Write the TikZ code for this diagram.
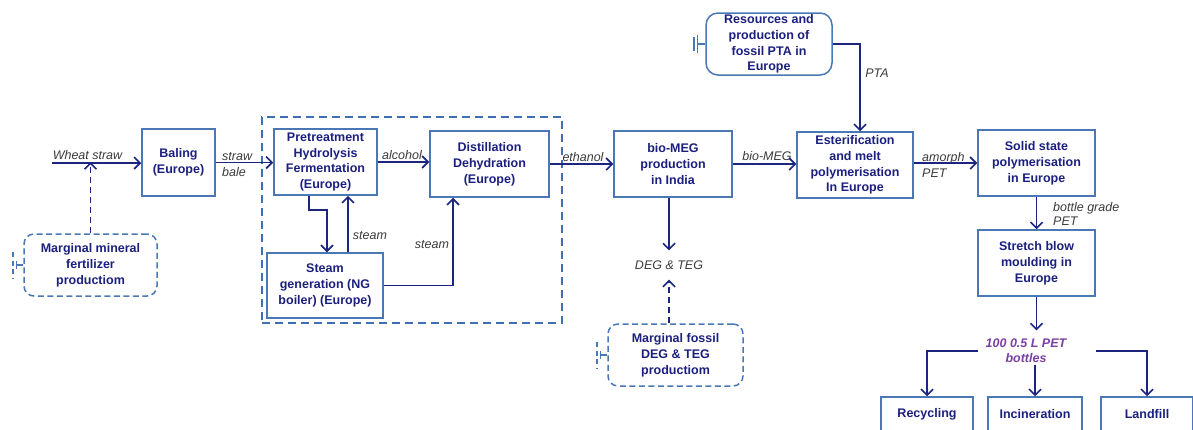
\documentclass[tikz,border=0pt]{standalone}
\usepackage{fontspec}
\setmainfont{Liberation Sans}
\usetikzlibrary{arrows.meta,calc}

\definecolor{boxblue}{HTML}{4A78B6}
\definecolor{frameblue}{HTML}{3F6FB3}
\definecolor{inknavy}{HTML}{1B1F7E}
\definecolor{arrownavy}{HTML}{1C2580}
\definecolor{labgray}{HTML}{3A3A3A}
\definecolor{bottlepurple}{HTML}{7A3FA3}

\tikzset{
  procbox/.style={draw=boxblue, line width=1.5pt, fill=white, align=center,
    inner sep=0pt, text=inknavy,
    font=\fontsize{12.5}{15.8}\selectfont\bfseries},
  margbox/.style={procbox, rounded corners=10pt,
    dash pattern=on 6pt off 3.5pt},
  resbox/.style={procbox, rounded corners=12pt},
  unitframe/.style={draw=frameblue, line width=2.2pt, dash pattern=on 8pt off 5pt,
    inner sep=0pt},
  flowlabel/.style={inner sep=0pt, text=labgray,
    font=\fontsize{12.5}{16}\selectfont\itshape},
  bottlelabel/.style={inner xsep=0pt, inner ysep=2pt, text=bottlepurple,
    align=center, font=\fontsize{12.5}{15}\selectfont\bfseries\itshape},
  flow/.style={draw=arrownavy, line width=1.6pt,
    -{Straight Barb[length=6pt,width=12pt,line width=1.6pt]}},
  dflow/.style={flow, dash pattern=on 6pt off 4pt},
  stub/.style={draw=boxblue, line width=1.5pt},
}

\begin{document}
\begin{tikzpicture}[x=1pt,y=-1pt]
\useasboundingbox (0,0) rectangle (1193,429);
\clip (0,0) rectangle (1193,429);

% ---- dashed frame around the ethanol plant
\node[unitframe, minimum width=300pt, minimum height=206pt] (plant) at (412,220) {};

% ---- process boxes
\node[procbox, minimum width=73pt,  minimum height=67pt] (baling) at (178.5,162.5) {Baling\\(Europe)};
\node[procbox, minimum width=103pt, minimum height=66pt] (pre)    at (325.5,162)   {Pretreatment\\Hydrolysis\\Fermentation\\(Europe)};
\node[procbox, minimum width=119pt, minimum height=66pt] (dist)   at (489.5,164)   {Distillation\\Dehydration\\(Europe)};
\node[procbox, minimum width=116pt, minimum height=65pt] (steam)  at (325,285.5)   {Steam\\generation (NG\\boiler) (Europe)};
\node[procbox, minimum width=118pt, minimum height=66pt] (biomeg) at (673,164)     {bio-MEG\\production\\in India};
\node[procbox, minimum width=116pt, minimum height=66pt] (ester)  at (855,165)     {Esterification\\and melt\\polymerisation\\In Europe};
\node[resbox,  minimum width=126pt, minimum height=62pt] (pta)    at (769,44)      {Resources and\\production of\\fossil PTA in\\Europe};
\node[procbox, minimum width=117pt, minimum height=66pt] (ssp)    at (1036.5,163)  {Solid state\\polymerisation\\in Europe};
\node[procbox, minimum width=117pt, minimum height=66pt] (sbm)    at (1036.5,263)  {Stretch blow\\moulding in\\Europe};
\node[procbox, minimum width=92pt,  minimum height=34pt] (rec)    at (927,414)     {Recycling};
\node[procbox, minimum width=94pt,  minimum height=34pt] (inc)    at (1035,414)    {Incineration};
\node[procbox, minimum width=92pt,  minimum height=34pt] (land)   at (1147,414)    {Landfill};

% ---- marginal supply boxes
\node[margbox, minimum width=133pt, minimum height=62pt] (margmin) at (90.5,265)  {Marginal mineral\\fertilizer\\productiom};
\node[margbox, minimum width=135pt, minimum height=62pt] (margfos) at (675.5,355) {Marginal fossil\\DEG \& TEG\\productiom};

% ---- system boundary stubs
\draw[stub] (pta.west) -- ++(-8,0) coordinate (ptastub);
\draw[stub] (ptastub) ++(0,-9) -- ++(0,18);
\draw[stub] (ptastub) ++(-3.5,-7) -- ++(0,14);

\draw[stub, dash pattern=on 6pt off 3.5pt] (margmin.west) -- ++(-7,0) coordinate (minstub);
\draw[stub] (minstub) ++(0,-4) -- ++(0,8);
\draw[stub, dash pattern=on 5pt off 3.5pt] (minstub) ++(-3.5,-13) -- ++(0,26);

\draw[stub, dash pattern=on 6pt off 3.5pt] (margfos.west) -- ++(-7,0) coordinate (fosstub);
\draw[stub] (fosstub) ++(0,-4) -- ++(0,8);
\draw[stub, dash pattern=on 5pt off 3.5pt] (fosstub) ++(-3.5,-13) -- ++(0,26);

% ---- flow labels
\node[flowlabel] (lws)   at (87.5,155) {Wheat straw};
\node[flowlabel, align=left, anchor=west] (lbale) at (222,164.5) {straw\\bale};
\node[flowlabel] (lalc)  at (402,155) {alcohol};
\node[flowlabel] (lst1)  at (370,236) {steam};
\node[flowlabel] (lst2)  at (432,245) {steam};
\node[flowlabel] (leth)  at (583,157) {ethanol};
\node[flowlabel] (lmeg)  at (767,156) {bio-MEG};
\node[flowlabel] (lpta)  at (877,73)  {PTA};
\node[flowlabel, align=left, anchor=west] (lamo) at (922,164.5) {amorph\\PET};
\node[flowlabel, align=left, anchor=west] (lbgp) at (1053,214) {bottle grade\\[-2pt]PET};
\node[flowlabel, inner ysep=10pt] (deg) at (669,265) {DEG \& TEG};
\node[bottlelabel] (bottles) at (1026,350.5) {100 0.5 L PET\\bottles};

% ---- main chain
\coordinate (wsin) at (52,163);
\draw[flow] (wsin) -- (wsin -| baling.west);
\draw[dflow, shorten >=-1pt] (margmin.north) -- (margmin.north |- wsin);
\draw[flow] (baling.east) -- (baling.east -| pre.west);
\draw[flow] (pre.east) -- (pre.east -| dist.west);
\draw[flow] ([xshift=-16.5pt]pre.south) -- ++(0,14) -| ([xshift=2pt]steam.north);
\draw[flow] ([xshift=23pt]steam.north) -- ([xshift=23pt]steam.north |- pre.south);
\draw[flow] (steam.east) -| ([xshift=-36.5pt]dist.south);
\draw[flow] (dist.east) -- (dist.east -| biomeg.west);
\draw[flow] (biomeg.east) -- (biomeg.east -| ester.west);
\draw[flow] (pta.east) -| ([xshift=5pt]ester.north);
\draw[flow] (ssp.west -| ester.east) -- (ssp.west);
\draw[flow] (ssp.south) -- (sbm.north);

% ---- co-products
\draw[flow] (biomeg.south -| deg.north) -- (deg.north);
\draw[dflow] (margfos.north -| deg.south) -- (deg.south);

% ---- bottles and end of life
\coordinate (btop) at ([yshift=6pt]bottles.north);
\draw[flow] (sbm.south) -- (sbm.south |- btop);
\coordinate (bleft)  at (978,351);
\coordinate (bright) at (1096,351);
\draw[flow] (bleft) -| (rec.north);
\draw[flow] (inc.north |- bottles.south) -- (inc.north);
\draw[flow] (bright) -| (land.north);
\end{tikzpicture}
\end{document}
